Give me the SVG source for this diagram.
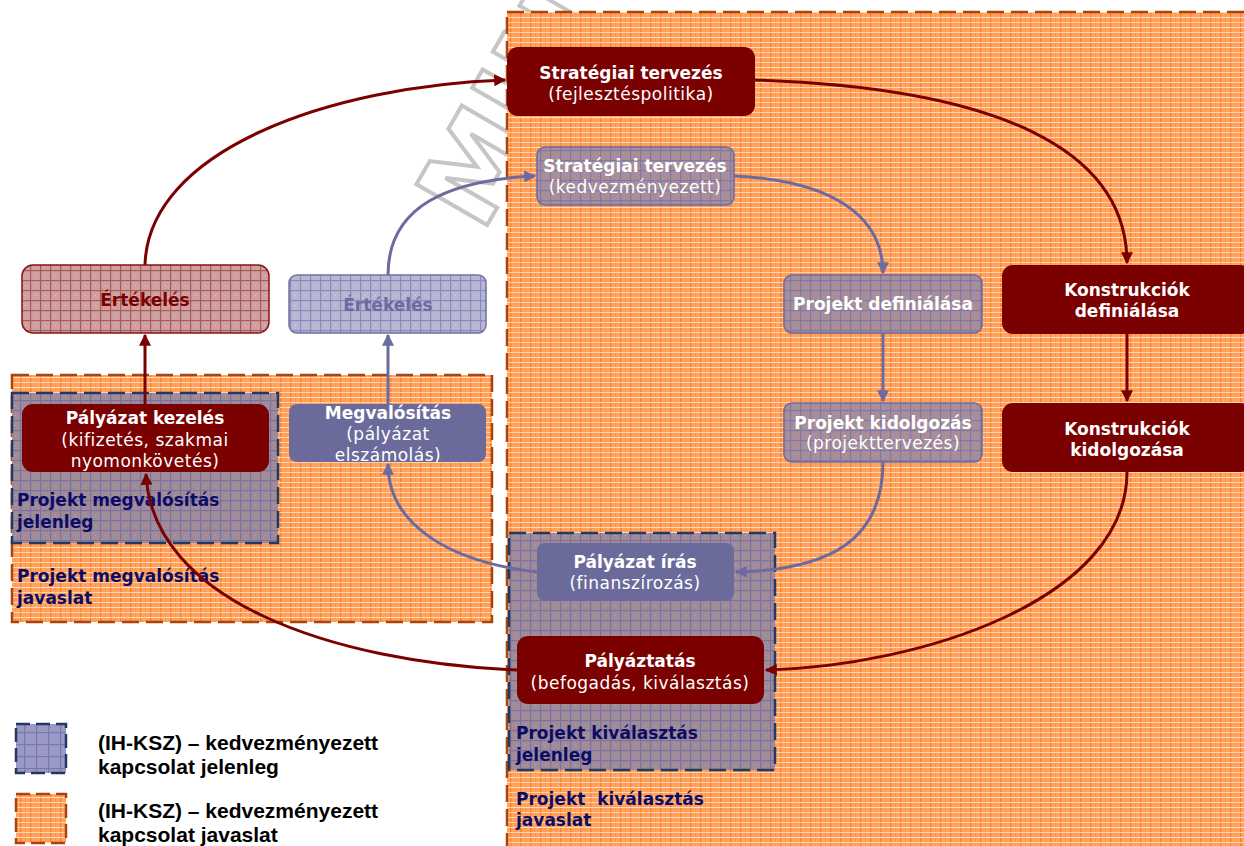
<svg xmlns="http://www.w3.org/2000/svg" width="1244" height="846" viewBox="0 0 1244 846">
<defs>
<pattern id="pOr" width="10" height="10" patternUnits="userSpaceOnUse">
<rect width="10" height="10" fill="#ffa35f"/>
<rect x="0" y="0" width="1.4" height="10" fill="#ff8028"/>
<rect x="5" y="0" width="0.8" height="10" fill="#ff9448"/>
<rect x="0" y="2" width="10" height="1" fill="#ffd3b2"/>
<rect x="0" y="7" width="10" height="1" fill="#ffdcc2"/>
</pattern>
<pattern id="pBl" width="10" height="10" patternUnits="userSpaceOnUse">
<rect width="10" height="10" fill="#a08b98"/>
<rect x="0" y="0" width="1.2" height="10" fill="#7b72a2"/>
<rect x="0" y="0" width="10" height="1.2" fill="#7b72a2"/>
<rect x="5" y="5" width="1" height="1" fill="#b6a3a8"/>
</pattern>
<pattern id="pBn" width="10" height="10" patternUnits="userSpaceOnUse">
<rect width="10" height="10" fill="#a88e98"/>
<rect x="0" y="0" width="1.2" height="10" fill="#8078a6"/>
<rect x="0" y="0" width="10" height="1.2" fill="#8078a6"/>
</pattern>
<pattern id="pRd" width="10" height="10" patternUnits="userSpaceOnUse">
<rect width="10" height="10" fill="#cfa0a0"/>
<rect x="0" y="0" width="1.2" height="10" fill="#a65a5a"/>
<rect x="0" y="0" width="10" height="1.2" fill="#a65a5a"/>
<rect x="5" y="5" width="1" height="1" fill="#e2c4c4"/>
</pattern>
<pattern id="pLb" width="10" height="10" patternUnits="userSpaceOnUse">
<rect width="10" height="10" fill="#b7b7d4"/>
<rect x="0" y="0" width="1.2" height="10" fill="#8a8abb"/>
<rect x="0" y="0" width="10" height="1.2" fill="#8a8abb"/>
<rect x="5" y="5" width="1" height="1" fill="#d4d4e6"/>
</pattern>
<pattern id="pLg" width="12" height="12" patternUnits="userSpaceOnUse">
<rect width="12" height="12" fill="#9a98c4"/>
<rect x="0" y="0" width="1.2" height="12" fill="#7878aa"/>
<rect x="0" y="0" width="12" height="1.2" fill="#7878aa"/>
</pattern>
<marker id="aR" viewBox="0 0 10 10" refX="9" refY="5" markerWidth="4" markerHeight="4" orient="auto" markerUnits="strokeWidth">
<path d="M0,0 L10,5 L0,10 z" fill="#7b0000"/>
</marker>
<marker id="aB" viewBox="0 0 10 10" refX="9" refY="5" markerWidth="4" markerHeight="4" orient="auto" markerUnits="strokeWidth">
<path d="M0,0 L10,5 L0,10 z" fill="#6b6ba0"/>
</marker>
<style>
.or{fill:url(#pOr);stroke:#a9440f;stroke-width:2.5;stroke-dasharray:17 7}
.jl{fill:url(#pBl);stroke:#1f3b63;stroke-width:2.5;stroke-dasharray:17 7}
.red{fill:#7b0000}
.sb{fill:#6b6b9b}
.pb{fill:url(#pBn);stroke:#6b6ba0;stroke-width:1.5}
.t{font-family:"DejaVu Sans",Verdana,sans-serif;font-size:17px;fill:#ffffff;text-anchor:middle;letter-spacing:0.5px}
.b{font-weight:bold;letter-spacing:0}
.lab{font-family:"DejaVu Sans",Verdana,sans-serif;font-size:17px;font-weight:bold;fill:#0c0c66}
.leg{font-family:"Liberation Sans",Arial,sans-serif;font-size:21px;font-weight:bold;fill:#000000}
.cr{fill:none;stroke:#7b0000;stroke-width:3;marker-end:url(#aR)}
.cb{fill:none;stroke:#6b6ba0;stroke-width:3;marker-end:url(#aB)}
</style>
</defs>
<rect width="1244" height="846" fill="#ffffff"/>

<text id="watermark" x="0" y="0" transform="translate(482,234) rotate(-60)" font-family="DejaVu Sans, sans-serif" font-size="112" font-weight="bold" fill="none" stroke="#c6c6c6" stroke-width="4">MINTA</text>

<g id="regions">
<rect id="reg-kivalasztas-javaslat" class="or" x="507" y="12" width="745" height="850"/>
<rect id="reg-megvalositas-javaslat" class="or" x="12" y="375" width="480" height="247"/>
<rect id="reg-megvalositas-jelenleg" class="jl" x="12" y="393" width="266" height="150"/>
<rect id="reg-kivalasztas-jelenleg" class="jl" x="509" y="533" width="266" height="237"/>
<text class="lab" x="17" y="506">Projekt megvalósítás</text>
<text class="lab" x="17" y="528">jelenleg</text>
<text class="lab" x="17" y="582">Projekt megvalósítás</text>
<text class="lab" x="17" y="604">javaslat</text>
<text class="lab" x="516" y="739">Projekt kiválasztás</text>
<text class="lab" x="516" y="761">jelenleg</text>
<text class="lab" x="516" y="805" xml:space="preserve">Projekt  kiválasztás</text>
<text class="lab" x="516" y="826">javaslat</text>
</g>

<g id="connectors">
<path class="cr" d="M145,265 C148,150 330,86 505,80"/>
<path class="cr" d="M755,80 C1000,88 1127,150 1127,263"/>
<path class="cr" d="M1127,334 L1127,401"/>
<path class="cr" d="M1127,472 C1127,600 920,666 766,670"/>
<path class="cr" d="M517,670 C330,662 152,600 146,474"/>
<path class="cr" d="M145,404 L145,335"/>
<path class="cb" d="M388,275 C388,205 450,180 535,176"/>
<path class="cb" d="M734,176 C830,180 883,215 883,273"/>
<path class="cb" d="M883,333 L883,401"/>
<path class="cb" d="M883,462 C883,540 830,570 736,572"/>
<path class="cb" d="M537,572 C450,562 388,525 388,464"/>
<path class="cb" d="M388,404 L388,335"/>
</g>

<g id="n-strat-fp">
<rect class="red" x="507" y="47" width="248" height="69" rx="11"/>
<text class="t b" x="631" y="79">Stratégiai tervezés</text>
<text class="t" x="631" y="100">(fejlesztéspolitika)</text>
</g>
<g id="n-strat-kedv">
<rect class="pb" x="537" y="147" width="197" height="58" rx="8"/>
<text class="t b" x="635" y="172">Stratégiai tervezés</text>
<text class="t" x="635" y="193">(kedvezményezett)</text>
</g>
<g id="n-ertekeles-red">
<rect x="22" y="265" width="247" height="68" rx="11" fill="url(#pRd)" stroke="#8b1010" stroke-width="1.5"/>
<text class="t b" x="145" y="306" style="fill:#7b0000">Értékelés</text>
</g>
<g id="n-ertekeles-blue">
<rect x="289" y="275" width="197" height="58" rx="8" fill="url(#pLb)" stroke="#7070a0" stroke-width="1.5"/>
<text class="t b" x="388" y="311" style="fill:#6b6ba0">Értékelés</text>
</g>
<g id="n-palyazat-kezeles">
<rect class="red" x="22" y="404" width="247" height="68" rx="11"/>
<text class="t b" x="145" y="424">Pályázat kezelés</text>
<text class="t" x="145" y="446">(kifizetés, szakmai</text>
<text class="t" x="145" y="467">nyomonkövetés)</text>
</g>
<g id="n-megvalositas">
<rect class="sb" x="289" y="404" width="197" height="58" rx="8"/>
<text class="t b" x="388" y="419">Megvalósítás</text>
<text class="t" x="388" y="440">(pályázat</text>
<text class="t" x="388" y="461">elszámolás)</text>
</g>
<g id="n-projekt-def">
<rect class="pb" x="784" y="275" width="198" height="58" rx="8"/>
<text class="t b" x="883" y="310">Projekt definiálása</text>
</g>
<g id="n-konstr-def">
<rect class="red" x="1002" y="265" width="250" height="69" rx="11"/>
<text class="t b" x="1127" y="296">Konstrukciók</text>
<text class="t b" x="1127" y="317">definiálása</text>
</g>
<g id="n-projekt-kid">
<rect class="pb" x="784" y="403" width="198" height="59" rx="8"/>
<text class="t b" x="883" y="429">Projekt kidolgozás</text>
<text class="t" x="883" y="449">(projekttervezés)</text>
</g>
<g id="n-konstr-kid">
<rect class="red" x="1002" y="403" width="250" height="69" rx="11"/>
<text class="t b" x="1127" y="435">Konstrukciók</text>
<text class="t b" x="1127" y="456">kidolgozása</text>
</g>
<g id="n-palyazat-iras">
<rect class="sb" x="537" y="543" width="197" height="58" rx="8"/>
<text class="t b" x="635" y="568">Pályázat írás</text>
<text class="t" x="635" y="589">(finanszírozás)</text>
</g>
<g id="n-palyaztatas">
<rect class="red" x="517" y="636" width="247" height="68" rx="11"/>
<text class="t b" x="640" y="667">Pályáztatás</text>
<text class="t" x="640" y="689">(befogadás, kiválasztás)</text>
</g>

<g id="legend">
<rect x="16" y="724" width="50" height="49" fill="url(#pLg)" stroke="#1f3b63" stroke-width="2.5" stroke-dasharray="14 6"/>
<text class="leg" x="98" y="750">(IH-KSZ) – kedvezményezett</text>
<text class="leg" x="98" y="774">kapcsolat jelenleg</text>
<rect x="16" y="794" width="50" height="49" fill="url(#pOr)" stroke="#a9440f" stroke-width="2.5" stroke-dasharray="14 6"/>
<text class="leg" x="98" y="818">(IH-KSZ) – kedvezményezett</text>
<text class="leg" x="98" y="842">kapcsolat javaslat</text>
</g>
</svg>
